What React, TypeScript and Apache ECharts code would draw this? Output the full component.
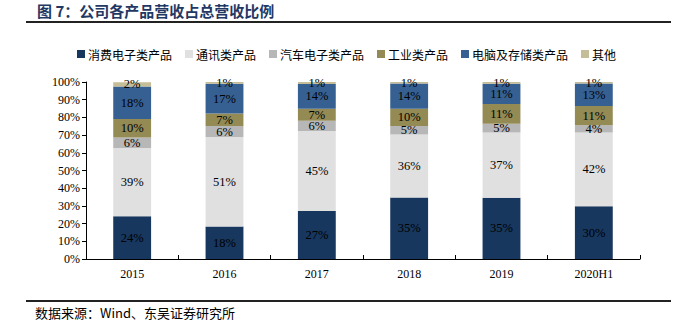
import React, { useEffect, useRef } from "react";
import * as echarts from "echarts";

const categories = ["2015", "2016", "2017", "2018", "2019", "2020H1"];
const seriesNames = ["消费电子类产品", "通讯类产品", "汽车电子类产品", "工业类产品", "电脑及存储类产品", "其他"];
const consumer = [24.1, 18.3, 27.1, 34.7, 34.6, 29.8];
const telecom = [38.6, 50.6, 45.2, 35.6, 36.8, 41.6];
const auto = [6.0, 6.2, 5.8, 4.8, 5.0, 4.2];
const industrial = [10.4, 7.1, 6.8, 9.8, 11.2, 10.8];
const computer = [18.4, 16.8, 14.0, 14.2, 11.4, 12.7];
const other = [2.4, 1.0, 1.1, 0.9, 1.0, 0.9];
const yTicks = ["0%", "10%", "20%", "30%", "40%", "50%", "60%", "70%", "80%", "90%", "100%"];

const colors = ["#17375e", "#e0e0e0", "#b7b7b7", "#948a54", "#376092", "#c4bd97"];
const seriesData = [consumer, telecom, auto, industrial, computer, other];

const serif = "'Liberation Serif', 'DejaVu Serif', serif";
const cjk = "'Noto Sans CJK SC', sans-serif";

export default function App() {
  const ref = useRef<HTMLDivElement>(null);
  useEffect(() => {
    if (!ref.current) return;
    const chart = echarts.init(ref.current, null, { renderer: "svg" });
    chart.setOption({
      animation: false,
      color: colors,
      legend: {
        data: seriesNames,
        left: 72,
        top: 43,
        itemWidth: 8,
        itemHeight: 8,
        itemGap: 13,
        icon: "rect",
        textStyle: { fontFamily: cjk, fontSize: 12, color: "#000", padding: [0, 0, 0, -2] },
      },
      grid: { left: 86, right: 34, top: 82, bottom: 62 },
      xAxis: {
        type: "category",
        data: categories,
        axisLine: { lineStyle: { color: "#000", width: 1 } },
        axisTick: { show: true, inside: true, length: 4, lineStyle: { color: "#000" } },
        axisLabel: { fontFamily: serif, fontSize: 12, color: "#000", margin: 9 },
      },
      yAxis: {
        type: "value",
        min: 0,
        max: 100,
        interval: 10,
        axisLine: { show: true, lineStyle: { color: "#000", width: 1 } },
        axisTick: { show: true, length: 4, lineStyle: { color: "#000" } },
        splitLine: { show: false },
        axisLabel: {
          fontFamily: serif,
          fontSize: 12,
          color: "#000",
          margin: 6,
          formatter: (v: number) => yTicks[Math.round(v / 10)],
        },
      },
      series: seriesNames.map((name, i) => ({
        name,
        type: "bar",
        stack: "total",
        barWidth: "41%",
        data: seriesData[i],
        itemStyle: { color: colors[i] },
        label: {
          show: true,
          position: "inside",
          fontFamily: serif,
          fontSize: 12.5,
          color: "#000",
          formatter: (p: any) => Math.round(p.value) + "%",
        },
      })),
      graphic: [
        {
          type: "text",
          left: 37,
          top: 2,
          style: {
            text: "图 7：公司各产品营收占总营收比例",
            fontFamily: cjk,
            fontSize: 15,
            fontWeight: "bold",
            fill: "#1f3864",
            lineHeight: 17,
          },
        },
        {
          type: "rect",
          shape: { x: 26, y: 21, width: 645, height: 2 },
          style: { fill: "#222" },
        },
        {
          type: "rect",
          shape: { x: 26, y: 300, width: 645, height: 2 },
          style: { fill: "#222" },
        },
        {
          type: "text",
          left: 35,
          top: 305,
          style: {
            text: "数据来源：Wind、东吴证券研究所",
            fontFamily: cjk,
            fontSize: 13,
            fill: "#000",
            lineHeight: 15,
          },
        },
      ],
    });
    return () => chart.dispose();
  }, []);
  return <div ref={ref} style={{ width: 674, height: 321, position: "absolute", left: 0, top: 0 }} />;
}
